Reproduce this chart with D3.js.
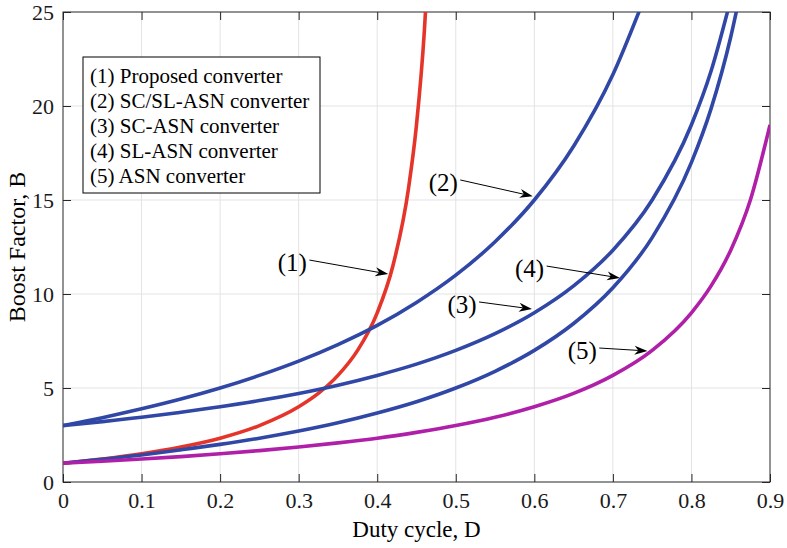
<!DOCTYPE html>
<html>
<head>
<meta charset="utf-8">
<script src="https://cdn.jsdelivr.net/npm/d3@7"></script>
<style>
  body { margin: 0; background: #fff; }
  svg { display: block; font-family: "Liberation Serif", "Times New Roman", serif; }
</style>
</head>
<body>
<div id="chart"></div>
<script>
// duty cycle samples and boost factor per converter
const dProposed = [0, 0.05, 0.1, 0.15, 0.2, 0.25, 0.3, 0.325, 0.35, 0.375, 0.4, 0.42, 0.44, 0.45, 0.46, 0.462]
const bProposed = [1, 1.22, 1.5, 1.86, 2.33, 3, 4, 4.71, 5.67, 7, 9, 11.5, 15.67, 19, 24, 25.4]

const dScSl = [0, 0.05, 0.1, 0.15, 0.2, 0.25, 0.3, 0.35, 0.4, 0.45, 0.5, 0.55, 0.6, 0.65, 0.7, 0.735]
const bScSl = [3, 3.42, 3.89, 4.41, 5, 5.67, 6.43, 7.31, 8.33, 9.55, 11, 12.78, 15, 17.86, 21.67, 25.2]

const dSc = [0, 0.05, 0.1, 0.15, 0.2, 0.25, 0.3, 0.35, 0.4, 0.45, 0.5, 0.55, 0.6, 0.65, 0.7, 0.75, 0.8, 0.825, 0.85]
const bSc = [3, 3.21, 3.44, 3.71, 4, 4.33, 4.71, 5.15, 5.67, 6.27, 7, 7.89, 9, 10.43, 12.33, 15, 19, 21.86, 25.67]

const dSl = [0, 0.05, 0.1, 0.15, 0.2, 0.25, 0.3, 0.35, 0.4, 0.45, 0.5, 0.55, 0.6, 0.65, 0.7, 0.75, 0.8, 0.825, 0.85, 0.86]
const bSl = [1, 1.21, 1.44, 1.71, 2, 2.33, 2.71, 3.15, 3.67, 4.27, 5, 5.89, 7, 8.43, 10.33, 13, 17, 19.86, 23.67, 25.57]

const dAsn = [0, 0.05, 0.1, 0.15, 0.2, 0.25, 0.3, 0.35, 0.4, 0.45, 0.5, 0.55, 0.6, 0.65, 0.7, 0.75, 0.8, 0.825, 0.85, 0.875, 0.9]
const bAsn = [1, 1.105, 1.22, 1.35, 1.5, 1.67, 1.86, 2.08, 2.33, 2.64, 3, 3.44, 4, 4.71, 5.67, 7, 9, 10.43, 12.33, 15, 19]

const legendLabels = ['(1) Proposed converter', '(2) SC/SL-ASN converter', '(3) SC-ASN converter', '(4) SL-ASN converter', '(5) ASN converter']

const xTicks = [0, 0.1, 0.2, 0.3, 0.4, 0.5, 0.6, 0.7, 0.8, 0.9]
const yTicks = [0, 5, 10, 15, 20, 25]

// annotation label position and arrow tip, in data units
const notes = [
    { label: '(1)', tx: 0.292, ty: 11.7, ax: 0.414, ay: 11.06 },
    { label: '(2)', tx: 0.484, ty: 15.96, ax: 0.598, ay: 15.2 },
    { label: '(3)', tx: 0.508, ty: 9.47, ax: 0.597, ay: 9.2 },
    { label: '(4)', tx: 0.594, ty: 11.38, ax: 0.709, ay: 10.85 },
    { label: '(5)', tx: 0.661, ty: 7.02, ax: 0.744, ay: 6.97 }
]

const series = [
    { d: dProposed, b: bProposed, color: '#e5352a' },
    { d: dScSl, b: bScSl, color: '#3047a6' },
    { d: dSc, b: bSc, color: '#3047a6' },
    { d: dSl, b: bSl, color: '#3047a6' },
    { d: dAsn, b: bAsn, color: '#b01fa8' }
]

const fullWidth = 787
const fullHeight = 548
const margin = { top: 12, right: 17, bottom: 66, left: 63 },
    width = fullWidth - margin.left - margin.right,
    height = fullHeight - margin.top - margin.bottom

const svg = d3.select('#chart')
    .append('svg')
    .attr('width', fullWidth)
    .attr('height', fullHeight)

const g = svg.append('g')
    .attr('transform', 'translate(' + margin.left + ',' + margin.top + ')')

const x = d3.scaleLinear().domain([0, 0.9]).range([0, width])
const y = d3.scaleLinear().domain([0, 25]).range([height, 0])

// grid
g.append('g')
    .selectAll('line')
    .data(xTicks.slice(1, -1))
    .enter().append('line')
    .attr('x1', d => x(d)).attr('x2', d => x(d))
    .attr('y1', 0).attr('y2', height)
    .attr('stroke', '#e3e3e3')
g.append('g')
    .selectAll('line')
    .data(yTicks.slice(1, -1))
    .enter().append('line')
    .attr('y1', d => y(d)).attr('y2', d => y(d))
    .attr('x1', 0).attr('x2', width)
    .attr('stroke', '#e3e3e3')

// axes, MATLAB style: inward ticks on all four sides
const tickLen = 8
const fmt = d3.format('')
g.append('g')
    .attr('transform', 'translate(0,' + height + ')')
    .call(d3.axisBottom(x).tickValues(xTicks).tickSize(-tickLen).tickPadding(10).tickFormat(fmt))
g.append('g')
    .call(d3.axisTop(x).tickValues(xTicks).tickSize(-tickLen).tickFormat(''))
g.append('g')
    .call(d3.axisLeft(y).tickValues(yTicks).tickSize(-tickLen).tickPadding(9))
g.append('g')
    .attr('transform', 'translate(' + width + ',0)')
    .call(d3.axisRight(y).tickValues(yTicks).tickSize(-tickLen).tickFormat(''))

g.selectAll('.domain').remove()
g.selectAll('.tick line').attr('stroke', '#262626')
g.selectAll('.tick text')
    .attr('fill', '#1a1a1a')
    .style('font-family', '"Liberation Serif", serif')
    .style('font-size', '22px')

g.append('rect')
    .attr('width', width).attr('height', height)
    .attr('fill', 'none')
    .attr('stroke', '#262626')
    .attr('stroke-width', 1)

// curves
g.append('clipPath').attr('id', 'plot-clip')
    .append('rect').attr('width', width).attr('height', height)

const line = d3.line()
    .x(p => x(p[0]))
    .y(p => y(p[1]))
    .curve(d3.curveMonotoneX)

g.append('g')
    .attr('clip-path', 'url(#plot-clip)')
    .selectAll('path')
    .data(series)
    .enter().append('path')
    .attr('d', s => line(s.d.map((v, i) => [v, s.b[i]])))
    .attr('fill', 'none')
    .attr('stroke', s => s.color)
    .attr('stroke-width', 3.6)

// annotations with arrows
notes.forEach(n => {
    const tx = x(n.tx), ty = y(n.ty)
    const sx = tx + 17, sy = ty - 2
    const ex = x(n.ax), ey = y(n.ay)
    const ang = Math.atan2(ey - sy, ex - sx)
    const L = 13, W = 4.5
    const bx = ex - L * Math.cos(ang), by = ey - L * Math.sin(ang)
    const ix = ex - L * 0.7 * Math.cos(ang), iy = ey - L * 0.7 * Math.sin(ang)
    const px = -Math.sin(ang) * W, py = Math.cos(ang) * W

    g.append('line')
        .attr('x1', sx).attr('y1', sy)
        .attr('x2', ix).attr('y2', iy)
        .attr('stroke', '#000').attr('stroke-width', 1)
    g.append('path')
        .attr('d', `M${ex},${ey} L${bx + px},${by + py} L${ix},${iy} L${bx - px},${by - py} Z`)
        .attr('fill', '#000')
    g.append('text')
        .attr('x', tx).attr('y', ty)
        .attr('text-anchor', 'middle')
        .attr('dy', '0.35em')
        .style('font-size', '25px')
        .text(n.label)
})

// legend
const legend = g.append('g').attr('transform', 'translate(20,45)')
legend.append('rect')
    .attr('width', 237).attr('height', 136)
    .attr('fill', '#fff')
    .attr('stroke', '#000')
    .attr('stroke-width', 1)
legend.selectAll('text')
    .data(legendLabels)
    .enter().append('text')
    .attr('x', 7)
    .attr('y', (d, i) => 26 + i * 25)
    .style('font-size', '21px')
    .text(d => d)

// axis titles
svg.append('text')
    .attr('x', margin.left + width / 2)
    .attr('y', 537)
    .attr('text-anchor', 'middle')
    .style('font-size', '23px')
    .text('Duty cycle, D')
svg.append('text')
    .attr('transform', 'translate(25,' + (margin.top + height / 2) + ') rotate(-90)')
    .attr('text-anchor', 'middle')
    .style('font-size', '24px')
    .text('Boost Factor, B')
</script>
</body>
</html>
